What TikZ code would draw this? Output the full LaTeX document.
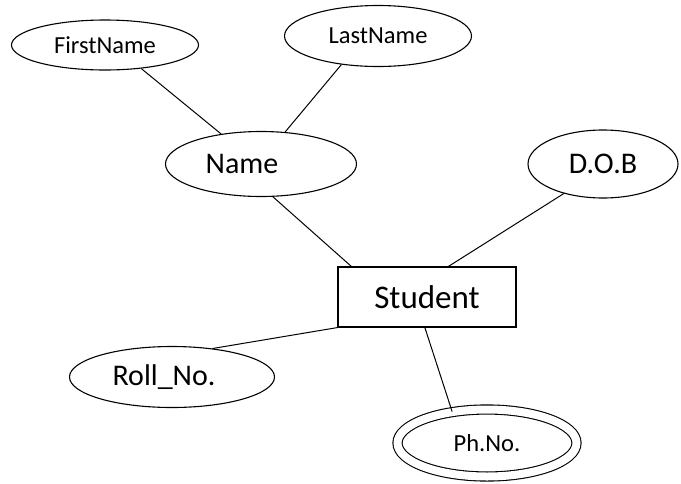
\documentclass[tikz,border=0pt]{standalone}
\usepackage{fontspec}
\setmainfont{Carlito}
\usetikzlibrary{shapes,positioning}

\begin{document}
\begin{tikzpicture}[
    attr/.style={ellipse, draw, line width=1.1pt, inner sep=0pt},
    entity/.style={rectangle, draw, line width=1.1pt, minimum width=178pt, minimum height=60pt, inner sep=0pt, font=\fontsize{33}{38}\selectfont},
    small/.style={font=\fontsize{24.5}{29}\selectfont},
    big/.style={font=\fontsize{30}{36}\selectfont},
    link/.style={line width=1pt},
    on grid
]
    \useasboundingbox (0,0) rectangle (681pt,-483pt);

    % Entity
    \node[entity] (student) at (427pt,-297pt) {Student};

    % Attributes
    \node[attr, big, minimum width=191pt, minimum height=65pt, above left=133pt and 166pt of student] (name) {Name\kern38pt};
    \node[attr, small, minimum width=187pt, minimum height=50pt, above left=119pt and 156pt of name] (first) {FirstName};
    \node[attr, small, minimum width=187pt, minimum height=61pt, above right=128pt and 117pt of name] (last) {LastName};
    \node[attr, big, minimum width=150pt, minimum height=68pt, above right=133pt and 176pt of student] (dob) {D.O.B};
    \node[attr, big, minimum width=205pt, minimum height=61pt, below left=80pt and 255pt of student] (roll) {Roll\_No.\kern16pt};

    % Multivalued attribute
    \node[attr, small, double, double distance=8pt, minimum width=179pt, minimum height=67pt, below right=146pt and 60pt of student] (phone) {Ph.No.};

    % Links
    \draw[link] (first.327) -- (name.143);
    \draw[link] (last.218) -- (name.53);
    \draw[link] (name.290) -- (student.158);
    \draw[link] (dob.217) -- (student.55);
    \draw[link] (roll.35) -- (student.south west);
    \draw[link] (student.266) -- (phone.138);

\end{tikzpicture}
\end{document}
